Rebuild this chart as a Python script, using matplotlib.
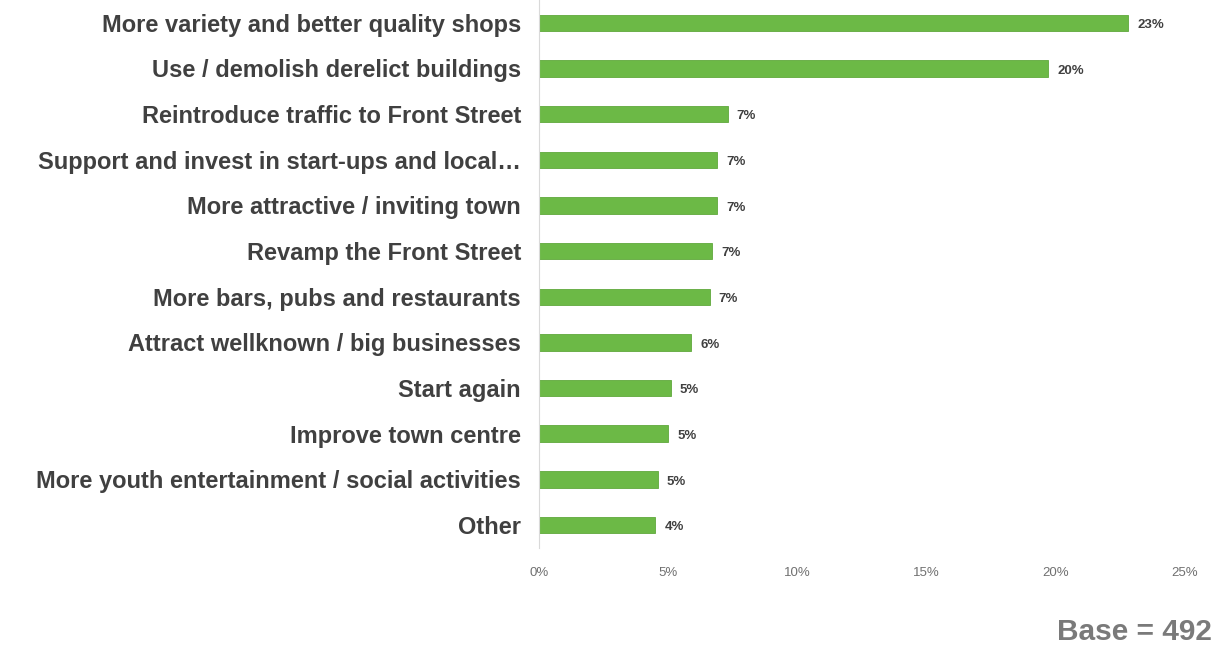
import matplotlib.pyplot as plt

# survey responses, top to bottom
categories = [
    "More variety and better quality shops",
    "Use / demolish derelict buildings",
    "Reintroduce traffic to Front Street",
    "Support and invest in start-ups and local\u2026",
    "More attractive / inviting town",
    "Revamp the Front Street",
    "More bars, pubs and restaurants",
    "Attract wellknown / big businesses",
    "Start again",
    "Improve town centre",
    "More youth entertainment / social activities",
    "Other",
]
values = [22.8, 19.7, 7.3, 6.9, 6.9, 6.7, 6.6, 5.9, 5.1, 5.0, 4.6, 4.5]
xticks = [0, 5, 10, 15, 20, 25]
base_n = 492

green = "#6cb946"
dark = "#404040"

plt.rcParams['font.family'] = ['Liberation Sans', 'DejaVu Sans']

fig = plt.figure(figsize=(12.15, 6.46), dpi=100)
ax = fig.add_axes([0.4436, 0.152, 0.5317, 0.848])

ypos = list(range(len(categories)))
ax.barh(ypos, values, height=0.36, color=green, edgecolor="#5fa83c", linewidth=0.6)

for y, v in zip(ypos, values):
    ax.text(v + 0.35, y + 0.05, f"{v:.0f}%", va="center", ha="left",
            fontsize=9.5, fontweight="bold", color=dark)

ax.set_yticks(ypos)
ax.set_yticklabels(categories, fontsize=17, fontweight="bold", color=dark)
ax.tick_params(axis="y", length=0, pad=13)
ax.set_ylim(len(categories) - 0.5, -0.5)

ax.set_xlim(0, 25)
ax.set_xticks(xticks)
ax.set_xticklabels([f"{t}%" for t in xticks], fontsize=9.5, color="#707070")
ax.tick_params(axis="x", length=0, pad=14)

for side in ["top", "right", "bottom"]:
    ax.spines[side].set_visible(False)
ax.spines["left"].set_color("#d9d9d9")
ax.spines["left"].set_linewidth(0.8)

fig.text(0.9975, 0.009, f"Base = {base_n}", ha="right", va="baseline",
         fontsize=21.5, fontweight="bold", color="#7a7a7a")

fig.savefig("out.png", dpi=100, facecolor="white")
